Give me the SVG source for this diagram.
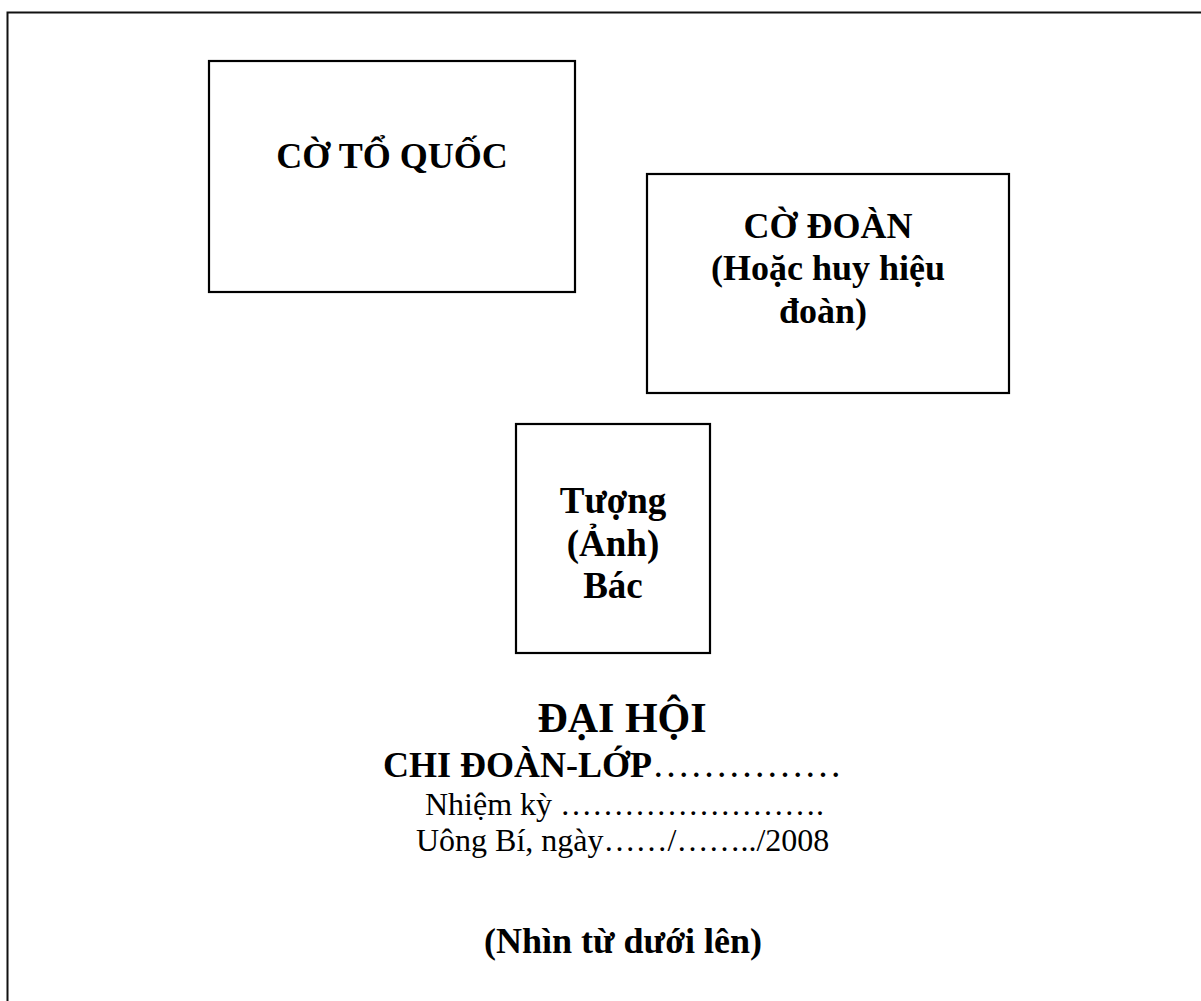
<svg xmlns="http://www.w3.org/2000/svg" width="1201" height="1001" viewBox="0 0 1201 1001">
<style>
.box{fill:#fff;stroke:#000;stroke-width:2.2}
.b{font-family:"Liberation Serif","Times New Roman",serif;font-weight:bold;fill:#000}
.r{font-family:"Liberation Serif","Times New Roman",serif;font-weight:normal;fill:#000}
</style>
<rect x="0" y="0" width="1201" height="1001" fill="#fff"/>
<path id="frame" d="M7.5,1001 V12.5 H1201" fill="none" stroke="#111" stroke-width="2"/>
<g id="connectors"/>
<g id="co-to-quoc">
<rect class="box" x="209" y="61" width="366" height="231"/>
<text class="b" x="392" y="168" font-size="36" text-anchor="middle">CỜ TỔ QUỐC</text>
</g>
<g id="co-doan">
<rect class="box" x="647" y="174" width="362" height="219"/>
<text class="b" x="828" y="238" font-size="36" text-anchor="middle">CỜ ĐOÀN</text>
<text class="b" x="828" y="280" font-size="36" text-anchor="middle">(Hoặc huy hiệu</text>
<text class="b" x="823" y="323" font-size="36" text-anchor="middle">đoàn)</text>
</g>
<g id="tuong-bac">
<rect class="box" x="516" y="424" width="194" height="229"/>
<text class="b" x="613" y="513" font-size="37" text-anchor="middle">Tượng</text>
<text class="b" x="613" y="556" font-size="37" text-anchor="middle">(Ảnh)</text>
<text class="b" x="613" y="598" font-size="37" text-anchor="middle">Bác</text>
</g>
<g id="title">
<text class="b" x="622" y="732" font-size="42" text-anchor="middle">ĐẠI HỘI</text>
<text class="b" x="383" y="777" font-size="36">CHI ĐOÀN-LỚP<tspan class="r" font-size="38">&#8230;&#8230;&#8230;&#8230;&#8230;</tspan></text>
<text class="r" x="425" y="815" font-size="32">Nhiệm kỳ &#8230;&#8230;&#8230;&#8230;&#8230;&#8230;&#8230;&#8230;.</text>
<text class="r" x="416" y="851" font-size="32">Uông Bí, ngày&#8230;&#8230;/&#8230;&#8230;../2008</text>
<text class="b" x="623" y="953" font-size="36" text-anchor="middle">(Nhìn từ dưới lên)</text>
</g>
</svg>
